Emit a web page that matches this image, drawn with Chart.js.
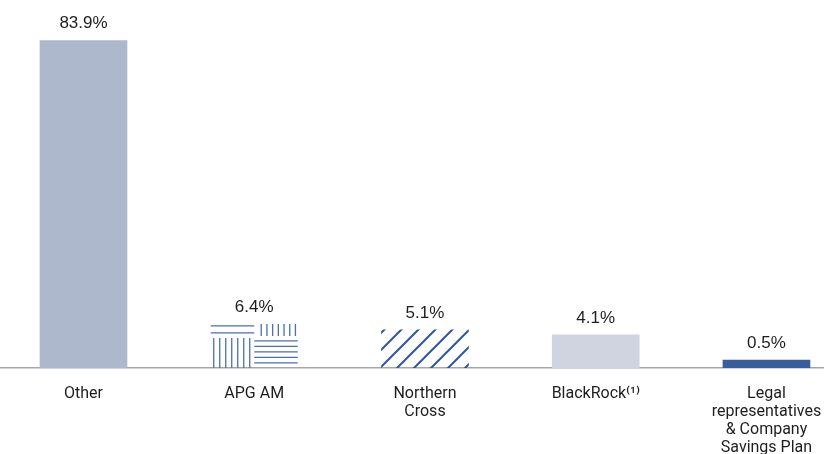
<!DOCTYPE html>
<html>
<head>
<meta charset="utf-8">
<script src="https://cdn.jsdelivr.net/npm/chart.js@4.4.1/dist/chart.umd.min.js"></script>
<style>
    html, body { margin: 0; padding: 0; background: #fff; }
    #wrap { width: 824px; height: 454px; }
</style>
</head>
<body>
<div id="wrap"><canvas id="chart"></canvas></div>
<script>
// categories and the printed shares
const categories = ['Other', 'APG AM', ['Northern', 'Cross'], 'BlackRock\u207D\u00B9\u207E',
    ['Legal', 'representatives', '& Company', 'Savings Plan']];
const shares = [83.9, 6.4, 5.1, 4.1, 0.5];
// bar heights as drawn in the picture (small bars are not to scale in the original)
const barHeights = [83.9, 11.3, 9.75, 8.5, 2.05];
const positions = [0, 1, 2, 3, 4];

// diagonal hatch for Northern Cross
function hatch() {
    const c = document.createElement('canvas');
    c.width = 17; c.height = 17;
    const g = c.getContext('2d');
    g.strokeStyle = '#2f56a0';
    g.lineWidth = 2;
    g.beginPath();
    g.moveTo(-2, 19); g.lineTo(19, -2);
    g.moveTo(-2, 2); g.lineTo(2, -2);
    g.moveTo(15, 19); g.lineTo(19, 15);
    g.stroke();
    return g.createPattern(c, 'repeat');
}

const colors = ['#aeb8cd', 'rgba(0,0,0,0)', hatch(), '#cfd4e0', '#375d9d'];

// APG AM: four-part line pattern drawn inside the bar rectangle
const apgPattern = {
    id: 'apgPattern',
    afterDatasetsDraw(chart) {
        const bar = chart.getDatasetMeta(0).data[1];
        const p = bar.getProps(['x', 'y', 'base', 'width'], true);
        const left = p.x - p.width / 2, right = p.x + p.width / 2, mid = p.x;
        const top = p.y, bottom = p.base;
        const ctx = chart.ctx;
        ctx.save();
        ctx.strokeStyle = '#4c6fb4';
        ctx.lineWidth = 1.3;
        ctx.beginPath();
        // top left: two horizontal lines
        [2, 9].forEach(d => { ctx.moveTo(left, top + d); ctx.lineTo(mid, top + d); });
        // bottom left: vertical lines
        for (let i = 0; i < 7; i++) {
            const x = left + 3 + i * 6;
            ctx.moveTo(x, top + 14); ctx.lineTo(x, bottom);
        }
        // top right: vertical lines
        for (let i = 0; i < 7; i++) {
            const x = mid + 7 + i * 5.7;
            ctx.moveTo(x, top); ctx.lineTo(x, top + 12);
        }
        // bottom right: horizontal lines
        for (let i = 0; i < 5; i++) {
            const y = top + 17 + i * 5.5;
            ctx.moveTo(mid, y); ctx.lineTo(right, y);
        }
        ctx.stroke();
        ctx.restore();
    }
};

// percentage labels above the bars
const valueLabels = {
    id: 'valueLabels',
    afterDatasetsDraw(chart) {
        const ctx = chart.ctx;
        ctx.save();
        ctx.font = '17px "Liberation Sans", sans-serif';
        ctx.fillStyle = '#1e1e1e';
        ctx.textAlign = 'center';
        ctx.textBaseline = 'middle';
        chart.getDatasetMeta(0).data.forEach((bar, i) => {
            ctx.fillText(shares[i].toFixed(1) + '%', bar.x, bar.y - 17);
        });
        ctx.restore();
    }
};

new Chart(document.getElementById('chart'), {
    type: 'bar',
    data: {
        datasets: [{
            data: positions.map((x, i) => ({ x: x, y: barHeights[i] })),
            backgroundColor: colors,
            barThickness: 87,
            borderWidth: 0
        }]
    },
    options: {
        responsive: true,
        maintainAspectRatio: false,
        animation: false,
        plugins: { legend: { display: false }, tooltip: { enabled: false } },
        layout: { padding: 0 },
        scales: {
            x: {
                type: 'linear',
                offset: false,
                min: -0.489,
                max: 4.337,
                afterBuildTicks: scale => { scale.ticks = positions.map(v => ({ value: v })); },
                afterFit: scale => {
                    scale.height = 86;
                    scale.paddingLeft = 0;
                    scale.paddingRight = 0;
                },
                grid: { display: false },
                border: { display: true, color: '#a6a6a6', width: 1.5 },
                ticks: {
                    autoSkip: false,
                    maxRotation: 0,
                    padding: 9,
                    color: '#1e1e1e',
                    font: { family: 'Roboto', size: 16, lineHeight: 1.13 },
                    callback: value => categories[value]
                }
            },
            y: {
                display: false,
                min: 0,
                max: 94.3
            }
        }
    },
    plugins: [apgPattern, valueLabels]
});
</script>
</body>
</html>
